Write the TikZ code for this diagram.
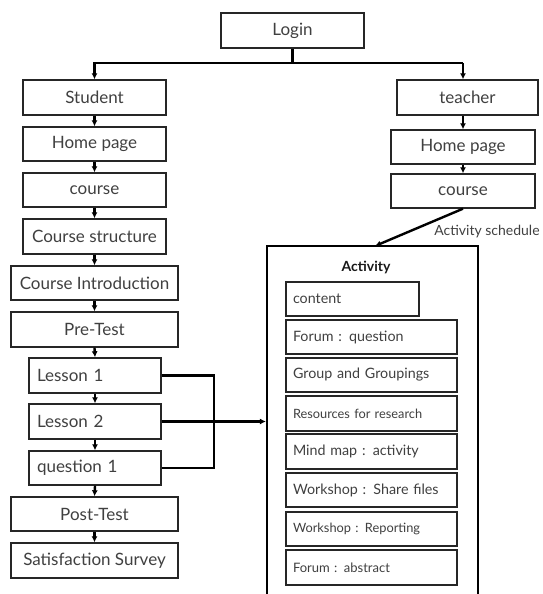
\documentclass[tikz,border=0pt]{standalone}
\usepackage{fontspec}
\setmainfont{Lato}
\usetikzlibrary{arrows.meta}
\begin{document}
\begin{tikzpicture}[x=1pt,y=-1pt,
  box/.style={draw=black!85,line width=1.4pt,fill=white,inner sep=0pt,
    text=black!75,font=\fontsize{17}{19}\selectfont},
  lbox/.style={box,inner xsep=8pt,align=left},
  ibox/.style={draw=black!85,line width=1.4pt,fill=white,inner xsep=7pt,inner ysep=0pt,
    text=black!75,font=\fontsize{14.3}{16}\selectfont,align=left,anchor=center},
  conn/.style={line width=2.4pt,black},
  arr/.style={conn,-{Latex[length=6pt,width=6pt]}}]
\clip (0,0) rectangle (542,594);
% left column
\node[box,minimum width=143pt,minimum height=35pt] (login) at (292.5,30.5) {Login};
\node[box,minimum width=143pt,minimum height=35pt] (student) at (94.5,97.5) {Student};
\node[box,minimum width=143pt,minimum height=34pt] (hp1) at (94.5,144) {Home page};
\node[box,minimum width=143pt,minimum height=34pt] (course1) at (94.5,190) {course};
\node[box,minimum width=143pt,minimum height=35pt] (cstruct) at (94.5,236.5) {Course structure};
\node[box,minimum width=167pt,minimum height=34pt] (cintro) at (94.5,283) {Course Introduction};
\node[box,minimum width=167pt,minimum height=35pt] (pretest) at (94.5,329.5) {Pre-Test};
\node[lbox,text width=116pt,minimum height=35pt] (l1) at (95,375.5) {Lesson 1};
\node[lbox,text width=116pt,minimum height=35pt] (l2) at (95,421.5) {Lesson 2};
\node[lbox,text width=116pt,minimum height=34pt] (q1) at (95,468) {question 1};
\node[box,minimum width=167pt,minimum height=34pt] (post) at (94.5,514) {Post-Test};
\node[box,minimum width=167pt,minimum height=35pt] (sat) at (94.5,560.5) {Satisfaction Survey};
% right column
\node[box,minimum width=141pt,minimum height=35pt] (teacher) at (467.5,97.5) {teacher};
\node[box,minimum width=144pt,minimum height=34pt] (hp2) at (463,147) {Home page};
\node[box,minimum width=144pt,minimum height=34pt] (course2) at (463,191) {course};
\node[text=black!75,font=\fontsize{14}{16}\selectfont,inner sep=0pt] (sched) at (487,232) {Activity schedule};
% activity container
\node[draw=black,line width=2.2pt,minimum width=211pt,minimum height=374pt,inner sep=0pt] (act) at (372.5,433) {};
\node[text=black!90,font=\fontsize{14}{16}\selectfont\bfseries,inner sep=0pt] (acttitle) at (366,267) {Activity};
\node[ibox,text width=119pt,minimum height=34pt] (content) at (352.5,299) {content};
\node[ibox,text width=157pt,minimum height=34pt] (forumq) at (371.5,337) {Forum : question};
\node[ibox,text width=157pt,minimum height=34pt] (group) at (371.5,375) {Group and Groupings};
\node[ibox,text width=157pt,minimum height=35pt,font=\fontsize{12.8}{14}\selectfont] (res) at (371.5,413.5) {Resources for research};
\node[ibox,text width=157pt,minimum height=35pt] (mind) at (371.5,451.5) {Mind map : activity};
\node[ibox,text width=157pt,minimum height=34pt] (wshare) at (371.5,490) {Workshop : Share files};
\node[ibox,text width=157pt,minimum height=34pt,font=\fontsize{12.8}{14}\selectfont] (wrep) at (371.5,529) {Workshop : Reporting};
\node[ibox,text width=157pt,minimum height=35pt,font=\fontsize{13}{14}\selectfont] (fabs) at (371.5,567.5) {Forum : abstract};
% connectors
\coordinate (br) at (292.5,63);
\coordinate (tbr) at (463,63);
\coordinate (acttop) at (375,246);
\draw[conn] (login.south) -- (br);
\draw[arr] (br) -| (student.north);
\draw[conn] (br) -- (tbr);
\draw[arr] (tbr) -- (tbr |- teacher.north);
\draw[arr] (student.south) -- (hp1.north);
\draw[arr] (hp1.south) -- (course1.north);
\draw[arr] (course1.south) -- (cstruct.north);
\draw[arr] (cstruct.south) -- (cintro.north);
\draw[arr] (cintro.south) -- (pretest.north);
\draw[arr] (pretest.south) -- (l1.north);
\draw[arr] (l1.south) -- (l2.north);
\draw[arr] (l2.south) -- (q1.north);
\draw[arr] (q1.south) -- (post.north);
\draw[arr] (post.south) -- (sat.north);
\draw[arr] (hp2.north |- teacher.south) -- (hp2.north);
\draw[arr] (hp2.south) -- (course2.north);
\draw[arr] (course2.south) -- (acttop);
\coordinate (lj) at (214,375.5);
\draw[conn] (l1.east) -- (lj) |- (q1.east);
\draw[arr] (l2.east) -- (act.west |- l2.east);
\end{tikzpicture}
\end{document}
